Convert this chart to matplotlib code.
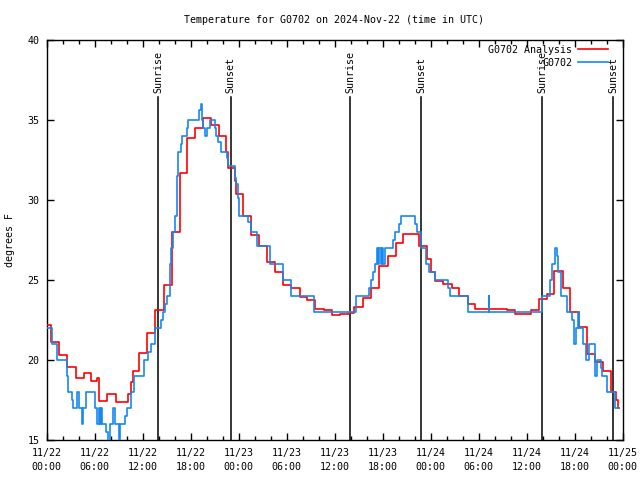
import matplotlib
matplotlib.use("Agg")
import matplotlib.pyplot as plt
import matplotlib.dates as mdates
from matplotlib.lines import Line2D
import pandas as pd

# ---------------- data ----------------
base = pd.Timestamp("2024-11-22 00:00")

# Analysis (red) : hours since base, value held until next time
ana_hours = [0.0, 0.6, 1.6, 2.6, 3.7, 4.7, 5.5, 6.3, 6.6, 7.6, 8.7, 10.2, 10.6, 10.8,
             11.6, 12.5, 13.5, 14.7, 15.7, 16.7, 17.6, 18.6, 19.6, 20.6, 21.6, 22.4,
             22.7, 23.5, 23.7, 24.6, 25.5, 26.5, 27.6, 28.5, 29.6, 30.55, 31.65, 32.55,
             33.55, 34.65, 35.65, 36.65, 37.75, 38.45, 39.6, 40.55, 41.55, 42.65, 43.65,
             44.55, 46.5, 47.5, 48.0, 48.6, 49.6, 50.7, 51.6, 52.7, 53.6, 57.5, 58.6,
             60.6, 61.6, 62.6, 63.4, 64.5, 65.4, 66.5, 67.5, 68.5, 69.5, 70.5, 71.2,
             71.45, 71.6]
ana_vals = [22.2, 21.1, 20.3, 19.55, 18.9, 19.2, 18.7, 18.9, 17.45, 17.9, 17.4, 17.9, 18.6, 19.3,
            20.45, 21.7, 23.1, 24.7, 28.0, 31.7, 33.9, 34.5, 35.1, 34.7, 34.0, 33.0,
            32.0, 31.2, 30.4, 29.0, 27.8, 27.1, 26.1, 25.5, 24.7, 24.5, 23.95, 23.75,
            23.2, 23.1, 22.8, 22.85, 22.95, 23.3, 23.85, 24.5, 25.9, 26.5, 27.3,
            27.9, 27.1, 26.3, 25.5, 24.95, 24.75, 24.5, 24.0, 23.5, 23.2, 23.15, 22.9,
            23.1, 23.8, 24.1, 25.55, 24.5, 23.0, 22.05, 20.4, 19.85, 19.3, 18.0, 17.5,
            17.0, 17.0]

# Observations (blue)
obs_hours = [0.0, 0.65, 0.74, 1.36, 2.61, 2.74, 3.15, 3.36, 3.78, 4.11, 4.4, 4.5, 4.9,
             6.06, 6.35, 6.5, 6.69, 6.8, 6.9, 7.44, 7.65, 7.94, 8.35, 8.56, 9.06, 9.18,
             9.81, 10.02, 10.56, 10.97, 12.2, 12.72, 13.05, 13.5, 13.55, 14.3, 14.6, 14.8,
             15.1, 15.4, 15.6, 15.8, 16.1, 16.26, 16.35, 16.46, 16.8, 16.96, 17.5, 17.7,
             19.1, 19.25, 19.4, 19.6, 19.8, 20.1, 20.4, 21.0, 21.2, 21.45, 21.87, 22.5,
             22.7, 23.5, 23.7, 23.95, 24.07, 25.2, 25.6, 26.36, 27.9, 29.56, 30.6, 33.45,
             38.65, 40.35, 40.55, 40.75, 41.05, 41.25, 41.4, 41.6, 41.75, 41.95, 42.1,
             42.3, 43.25, 43.55, 44.05, 44.25, 46.05, 46.25, 46.75, 46.85, 47.45, 47.85,
             48.55, 50.15, 50.45, 52.7, 55.25, 55.35, 61.9, 62.9, 63.2, 63.5, 63.8, 63.95,
             64.3, 65.1, 65.7, 65.9, 66.2, 66.45, 66.6, 67.1, 67.4, 67.8, 68.5, 68.6,
             68.75, 69.3, 69.4, 70.0, 71.1, 71.6]
obs_vals = [22.0, 21.5, 21.0, 20.0, 19.0, 18.0, 17.5, 17.0, 18.0, 17.0, 16.0, 17.0, 18.0,
            17.0, 16.0, 17.0, 16.0, 17.0, 16.0, 15.5, 14.5, 16.0, 17.0, 16.0, 14.5, 16.0,
            16.5, 17.0, 18.0, 19.0, 20.0, 20.5, 21.0, 21.7, 22.0, 22.5, 23.0, 23.5,
            24.0, 26.0, 27.0, 28.0, 29.0, 31.0, 31.5, 33.0, 33.5, 34.0, 34.5, 35.0,
            35.6, 36.0, 35.0, 34.5, 34.0, 34.5, 35.0, 34.5, 34.0, 33.6, 33.0, 32.6,
            32.1, 31.4, 31.0, 30.1, 29.0, 28.6, 28.0, 27.1, 26.0, 25.0, 24.0, 23.0,
            24.0, 24.5, 25.0, 25.5, 26.0, 27.0, 26.0, 27.0, 26.0, 27.0, 26.0,
            27.0, 27.5, 28.0, 28.5, 29.0, 28.5, 28.0, 27.5, 27.0, 26.0, 25.5,
            25.0, 24.5, 24.0, 23.0, 24.0, 23.0, 24.0, 25.0, 26.0, 27.0, 26.5, 25.5,
            24.0, 23.0, 22.5, 21.0, 22.0, 23.0, 22.0, 21.0, 20.0, 21.0, 20.0, 19.0,
            20.0, 19.5, 19.0, 18.0, 17.0, 17.0]

sunrise_hours = [13.95, 37.97, 61.97]
sunset_hours = [23.03, 46.85, 70.8]

title = "Temperature for G0702 on 2024-Nov-22 (time in UTC)"
ylabel = "degrees F"
series_labels = ["G0702 Analysis", "G0702"]
series_colors = ["#ff0000", "#1688f0"]

# ---------------- plot ----------------
font = "DejaVu Sans Mono"
fs = 7.2
plt.rcParams["font.family"] = font
plt.rcParams["font.size"] = fs

def to_time(hours):
    return base + pd.to_timedelta(hours, unit="h")

fig = plt.figure(figsize=(6.4, 4.8), dpi=100)
ax = fig.add_axes([46.5 / 640, 40 / 480, 576 / 640, 400 / 480])

ax.step(to_time(ana_hours), ana_vals, where="post", color=series_colors[0], lw=1.2, zorder=3)
ax.step(to_time(obs_hours), obs_vals, where="post", color=series_colors[1], lw=1.2, zorder=4)

line_top = 36.45
for h in sunrise_hours:
    t = to_time([h])[0]
    ax.plot([t, t], [15, line_top], color="black", lw=1.1, zorder=2)
    ax.text(t, 36.7, "Sunrise", rotation=90, ha="center", va="bottom", fontsize=fs, zorder=1)
for h in sunset_hours:
    t = to_time([h])[0]
    ax.plot([t, t], [15, line_top], color="black", lw=1.1, zorder=2)
    ax.text(t, 36.7, "Sunset", rotation=90, ha="center", va="bottom", fontsize=fs, zorder=1)

ax.set_xlim(base, base + pd.Timedelta(hours=72))
ax.set_ylim(15, 40)
ax.set_yticks([15, 20, 25, 30, 35, 40])

ax.xaxis.set_major_locator(mdates.HourLocator(byhour=[0, 6, 12, 18]))
ax.xaxis.set_minor_locator(mdates.HourLocator(byhour=range(0, 24, 2)))
ax.xaxis.set_major_formatter(mdates.DateFormatter("%m/%d\n%H:%M"))

ax.tick_params(axis="both", which="both", direction="in", top=True, right=True,
               width=1.0, colors="black")
ax.tick_params(axis="both", which="major", length=5)
ax.tick_params(axis="both", which="minor", length=3)
ax.tick_params(axis="x", which="major", pad=6)
ax.tick_params(axis="y", which="major", pad=5)
for lbl in ax.get_xticklabels():
    lbl.set_linespacing(1.5)
for sp in ax.spines.values():
    sp.set_linewidth(1.0)
    sp.set_color("black")

fig.text(334.5 / 640, 1 - 20 / 480, title, ha="center", va="center", fontsize=fs)
fig.text(10 / 640, 0.5, ylabel, rotation=90, ha="center", va="center", fontsize=fs)

handles = [Line2D([], [], color=series_colors[0], lw=1.2),
           Line2D([], [], color=series_colors[1], lw=1.2)]
leg = ax.legend(handles, series_labels, loc="upper right", frameon=False, markerfirst=False,
                handlelength=3.0, handletextpad=0.5, labelspacing=0.3,
                borderaxespad=0.2, borderpad=0.3, fontsize=fs,
                bbox_to_anchor=(1 - 10 / 576, 1.0))
leg.set_zorder(5)

fig.savefig("out.png", dpi=100)
